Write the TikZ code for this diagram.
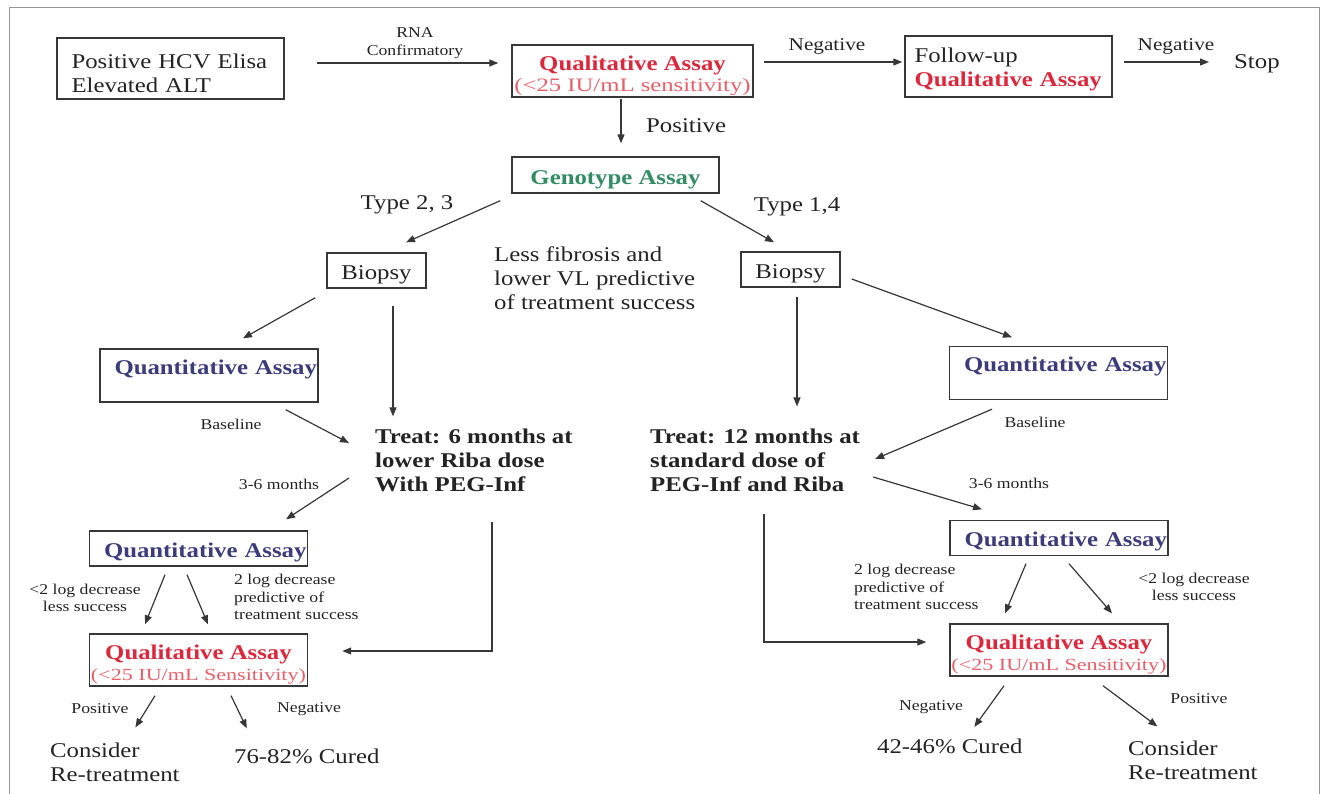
\documentclass[tikz,border=0pt]{standalone}
\usepackage{fontspec}
\setmainfont{Liberation Serif}[FakeStretch=1.18]
\newfontfamily\subfont{Liberation Serif}[FakeStretch=1.3]
\usetikzlibrary{calc,arrows.meta}
\tikzset{
  plain/.style={
    inner sep=0pt,
    text=textgray,
    font=\mainsize
  },
  box/.style={
    plain,
    draw=linegray,
    line width=1.4pt,
    align=center
  },
  lowbox/.style={box, text height=18pt, text depth=0pt},
  lbl/.style={plain, font=\labelsize, align=center},
  midlbl/.style={plain, font=\fontsize{18}{21}\selectfont},
  quant/.style={box, minimum width=218pt, minimum height=35pt, text width=216pt, align=right, text height=17pt, text depth=0pt, font=\mainsize\bfseries, text=quantblue},
  quanttall/.style={quant, minimum height=53pt, text height=25pt, text depth=28pt},
  qual/.style={box, minimum width=218pt, minimum height=52pt, font=\fontsize{21}{21}\selectfont},
  treat/.style={plain, font=\mainsize\bfseries, align=left, anchor=west},
  arr/.style={draw=linegray, line width=1.2pt, -{Triangle[length=9pt,width=7pt]}},
  frame/.style={draw=framegray, line width=1pt}
}
\definecolor{textgray}{RGB}{35,35,35}
\definecolor{linegray}{RGB}{55,55,55}
\definecolor{framegray}{RGB}{150,150,150}
\definecolor{qualred}{RGB}{220,40,60}
\definecolor{subred}{RGB}{232,95,105}
\definecolor{genogreen}{RGB}{50,140,100}
\definecolor{quantblue}{RGB}{60,60,125}
\newcommand{\mainsize}{\fontsize{21}{24}\selectfont}
\newcommand{\labelsize}{\fontsize{15}{17.5}\selectfont}
\newcommand{\qualassay}[2][17]{%
  \rule{0pt}{24pt}{\bfseries\color{qualred}Qualitative Assay}\\
  {\subfont\fontsize{#1}{20}\selectfont\color{subred}(<25 IU/mL #2)}}

\begin{document}
\begin{tikzpicture}[x=1pt, y=-1pt]
  \useasboundingbox (0,0) rectangle (1321,793);
  \draw[frame] (9,800) -- (9,7) -- (1319,7) -- (1319,800);

  % screening row
  \node[box, minimum width=227pt, minimum height=61pt, text width=198pt, align=left] (elisa) at (170.5,68.5) {\rule{0pt}{24pt}Positive HCV Elisa\\Elevated ALT};
  \node[qual, minimum width=241pt] (qualtop) at (632.5,71) {\qualassay[19]{sensitivity}};
  \node[box, minimum width=207pt, minimum height=61pt, text width=188pt, align=left] (followup) at (1008.5,66.5) {\rule{0pt}{20pt}Follow-up\\{\bfseries\color{qualred}Qualitative Assay}};
  \node[plain, anchor=west] (stop) at (1234,64) {Stop};
  \node[lowbox, minimum width=207pt, minimum height=36pt, font=\mainsize\bfseries, text=genogreen] (geno) at (615.5,175) {Genotype Assay};
  \node[lowbox, minimum width=99pt, minimum height=35pt] (biopsyL) at (376.5,270.5) {Biopsy};
  \node[lowbox, minimum width=99pt, minimum height=35pt] (biopsyR) at (790.5,269.5) {Biopsy};

  \node[lbl] (rnalbl) at (415,43) {RNA\\Confirmatory};
  \node[midlbl] (neglblA) at (827,46) {Negative};
  \node[midlbl] (neglblB) at (1176,46) {Negative};
  \node[plain, anchor=west] (poslbl) at (646,126) {Positive};
  \node[plain] (typeA) at (407,205) {Type 2, 3};
  \node[plain] (typeB) at (797,207) {Type 1,4};
  \node[plain, anchor=west, align=left] (fibrosis) at (494,278) {Less fibrosis and\\lower VL predictive\\of treatment success};

  \draw[arr] ($(elisa.east)+(32,-5.5)$) -- ($(qualtop.west)+(-13,-8)$);
  \draw[arr] ($(qualtop.east)+(10,-9)$) -- ($(followup.west)+(-2,-4.5)$);
  \draw[arr] ($(followup.east)+(11,-4.5)$) -- ($(stop.west)+(-25,-2)$);
  \draw[arr] ($(qualtop.south)+(-11.5,1)$) -- ($(geno.north)+(5.5,-13)$);
  \draw[arr] ($(geno.south west)+(-11,7)$) -- ($(biopsyL.north)+(29.5,-10)$);
  \draw[arr] ($(geno.south east)+(-19,7)$) -- ($(biopsyR.north)+(-16.5,-9)$);

  % type 2,3 branch
  \node[quanttall] (quantL) at (209,375.5) {Quantitative Assay};
  \node[treat] (treatL) at (375,460) {Treat: 6 months at\\lower Riba dose\\With PEG-Inf};
  \node[quant] (quantLb) at (198.5,548.5) {Quantitative Assay};
  \node[qual] (qualL) at (198.5,660) {\qualassay{Sensitivity}};
  \node[plain, anchor=west, align=left] (retreatL) at (50,762) {Consider\\Re-treatment};
  \node[plain, anchor=west] (curedL) at (234,756) {76-82\% Cured};

  \node[lbl] (baseL) at (231,424) {Baseline};
  \node[lbl] (monthsL) at (279,484) {3-6 months};
  \node[lbl] (lessL) at (85,598) {<2 log decrease\\less success};
  \node[lbl, anchor=west, align=left] (moreL) at (234,597) {2 log decrease\\predictive of\\treatment success};
  \node[lbl] (posL) at (100,709) {Positive};
  \node[lbl] (negL) at (309,709) {Negative};

  \draw[arr] ($(biopsyL.south west)+(-11,9)$) -- ($(quantL.north)+(34,-10)$);
  \draw[arr] ($(biopsyL.south)+(16.5,17)$) -- ($(treatL.north west)+(18,-12)$);
  \draw[arr] ($(quantL.south east)+(-33,7)$) -- ($(treatL.west)+(-26,-17)$);
  \draw[arr] ($(treatL.west)+(-26,18)$) -- ($(quantLb.north)+(87.5,-11)$);
  \draw[arr] ($(treatL.south west)+(117,30)$) |- ($(qualL.east)+(34,-9)$);
  \draw[arr] ($(quantLb.south)+(-33.5,8)$) -- ($(qualL.north)+(-53.5,-9)$);
  \draw[arr] ($(quantLb.south)+(-11.5,8)$) -- ($(qualL.north)+(9.5,-9)$);
  \draw[arr] ($(qualL.south)+(-43.5,9)$) -- ($(retreatL.north)+(20.5,-15)$);
  \draw[arr] ($(qualL.south)+(32.5,9)$) -- ($(curedL.north)+(-60,-20)$);

  % type 1,4 branch
  \node[quanttall] (quantR) at (1058.5,373) {Quantitative Assay};
  \node[treat] (treatR) at (650,460) {Treat: 12 months at\\standard dose of\\PEG-Inf and Riba};
  \node[quant] (quantRb) at (1059,538) {Quantitative Assay};
  \node[qual] (qualR) at (1059,650) {\qualassay{Sensitivity}};
  \node[plain, anchor=west] (curedR) at (877,746) {42-46\% Cured};
  \node[plain, anchor=west, align=left] (retreatR) at (1128,760) {Consider\\Re-treatment};

  \node[lbl] (baseR) at (1035,422) {Baseline};
  \node[lbl] (monthsR) at (1009,483) {3-6 months};
  \node[lbl, anchor=west, align=left] (moreR) at (854,587) {2 log decrease\\predictive of\\treatment success};
  \node[lbl] (lessR) at (1194,587) {<2 log decrease\\less success};
  \node[lbl] (negR) at (931,707) {Negative};
  \node[lbl] (posR) at (1199,699) {Positive};

  \draw[arr] ($(biopsyR.east)+(11,9.5)$) -- ($(quantR.north)+(-46.5,-8.5)$);
  \draw[arr] ($(biopsyR.south)+(6.5,9)$) -- ($(treatR.north west)+(147,-22)$);
  \draw[arr] ($(quantR.south)+(-66.5,9)$) -- ($(treatR.east)+(15,-1)$);
  \draw[arr] ($(treatR.east)+(13,17)$) -- ($(quantRb.north)+(-77,-10.5)$);
  \draw[arr] ($(treatR.south west)+(114,22)$) |- ($(qualR.west)+(-23,-8)$);
  \draw[arr] ($(quantRb.south)+(-33,7.5)$) -- ($(qualR.north)+(-54,-10)$);
  \draw[arr] ($(quantRb.south)+(10,7.5)$) -- ($(qualR.north)+(53,-10)$);
  \draw[arr] ($(qualR.south)+(-55,9)$) -- ($(curedR.north)+(24.5,-11.5)$);
  \draw[arr] ($(qualR.south)+(44,9)$) -- ($(retreatR.north)+(-35.5,-14)$);
\end{tikzpicture}
\end{document}
